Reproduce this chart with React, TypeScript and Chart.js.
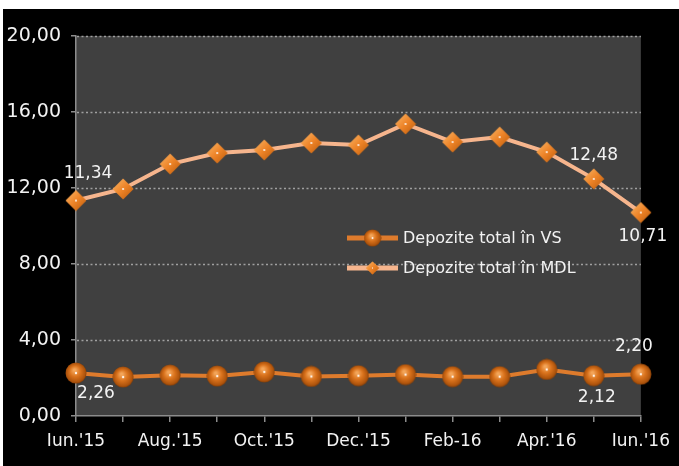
import { useEffect, useRef } from 'react';
import { Chart, registerables } from 'chart.js';

Chart.register(...registerables);

const categories = [
  "Iun.'15", "Iul.'15", "Aug.'15", "Sep.'15", "Oct.'15", "Nov.'15", "Dec.'15",
  "Ian-16", "Feb-16", "Mar.'16", "Apr.'16", "Mai.'16", "Iun.'16",
];
const depoziteVS = [2.26, 2.05, 2.15, 2.1, 2.32, 2.08, 2.12, 2.18, 2.07, 2.07, 2.45, 2.12, 2.2];
const depoziteMDL = [11.34, 11.95, 13.26, 13.84, 14.0, 14.37, 14.26, 15.37, 14.42, 14.68, 13.89, 12.48, 10.71];
const seriesNames = ['Depozite total în VS', 'Depozite total în MDL'];
const yTicks = [0, 4, 8, 12, 16, 20];
// labelled points: [dataset index, point index]
const labelledPoints: [number, number][] = [[1, 0], [1, 11], [1, 12], [0, 0], [0, 11], [0, 12]];

const FONT = '"DejaVu Sans", sans-serif';
const fmt = (v: number) => v.toFixed(2).replace('.', ',');

function makeSphere(): HTMLCanvasElement {
  const c = document.createElement('canvas');
  c.width = 22; c.height = 22;
  const ctx = c.getContext('2d')!;
  const g = ctx.createRadialGradient(9.5, 8, 1, 11, 11, 11);
  g.addColorStop(0, '#f4a65a');
  g.addColorStop(0.45, '#d9721c');
  g.addColorStop(0.85, '#ad530c');
  g.addColorStop(1, '#743606');
  ctx.fillStyle = g;
  ctx.beginPath(); ctx.arc(11, 11, 10.5, 0, Math.PI * 2); ctx.fill();
  ctx.fillStyle = 'rgba(255,255,255,0.9)';
  ctx.beginPath(); ctx.arc(11, 11, 1.2, 0, Math.PI * 2); ctx.fill();
  return c;
}

function makeDiamond(): HTMLCanvasElement {
  const c = document.createElement('canvas');
  c.width = 22; c.height = 22;
  const ctx = c.getContext('2d')!;
  const m = 11, r = 10.5;
  const g = ctx.createLinearGradient(2, 2, 20, 20);
  g.addColorStop(0, '#f8b060');
  g.addColorStop(0.5, '#ee8428');
  g.addColorStop(1, '#c2600e');
  ctx.fillStyle = g;
  ctx.beginPath();
  ctx.moveTo(m, m - r); ctx.lineTo(m + r, m); ctx.lineTo(m, m + r); ctx.lineTo(m - r, m); ctx.closePath();
  ctx.fill();
  ctx.fillStyle = 'rgba(255,255,255,0.9)';
  ctx.beginPath(); ctx.arc(m, m, 1.1, 0, Math.PI * 2); ctx.fill();
  return c;
}

export default function App() {
  const ref = useRef<HTMLCanvasElement>(null);
  useEffect(() => {
    if (!ref.current) return;
    const sphere = makeSphere();
    const diamond = makeDiamond();
    const lineColors = ['#de7b2c', '#f6b58d'];
    const markers = [sphere, diamond];

    const bgPlugin = {
      id: 'bg',
      beforeDraw(chart: any) {
        const { ctx, chartArea: a } = chart;
        ctx.save();
        ctx.fillStyle = '#404040';
        ctx.fillRect(a.left, a.top, a.right - a.left, a.bottom - a.top);
        ctx.restore();
      },
      beforeDatasetsDraw(chart: any) {
        const { ctx, chartArea: a } = chart;
        const y = chart.scales.y;
        ctx.save();
        ctx.strokeStyle = '#a0a0a0';
        ctx.lineWidth = 1.5;
        ctx.setLineDash([2, 2.5]);
        yTicks.forEach((t) => {
          if (t === 0) return;
          const py = Math.round(y.getPixelForValue(t)) + 0.5;
          ctx.beginPath();
          ctx.moveTo(a.left + 1, py);
          ctx.lineTo(a.right, py);
          ctx.stroke();
        });
        ctx.restore();
      },
      afterDraw(chart: any) {
        const { ctx, chartArea: a } = chart;
        ctx.save();
        // data labels
        const offsets: Record<string, [number, number]> = {
          '1-0': [12, -27], '1-11': [0, -23], '1-12': [2, 24],
          '0-0': [20, 21], '0-11': [3, 22], '0-12': [-7, -28],
        };
        ctx.font = `17px ${FONT}`;
        ctx.fillStyle = '#f2f2f2';
        ctx.textAlign = 'center';
        ctx.textBaseline = 'middle';
        labelledPoints.forEach(([d, i]) => {
          const el = chart.getDatasetMeta(d).data[i];
          const v = chart.data.datasets[d].data[i] as number;
          const [dx, dy] = offsets[`${d}-${i}`];
          ctx.fillText(fmt(v), el.x + dx, el.y + dy);
        });
        // legend
        const lx = a.left + 271;
        const ly = [a.top + 202, a.top + 232];
        ctx.font = `16px ${FONT}`;
        ctx.textAlign = 'left';
        seriesNames.forEach((name, k) => {
          ctx.strokeStyle = lineColors[k];
          ctx.lineWidth = 5;
          ctx.beginPath();
          ctx.moveTo(lx, ly[k]);
          ctx.lineTo(lx + 51, ly[k]);
          ctx.stroke();
          const mk = markers[k];
          const s = k === 0 ? 18 : 14;
          ctx.drawImage(mk, lx + 25.5 - s / 2, ly[k] - s / 2, s, s);
          ctx.fillStyle = '#f2f2f2';
          ctx.fillText(name, lx + 56, ly[k] + 1);
        });
        ctx.restore();
      },
    };

    const chart = new Chart(ref.current, {
      type: 'line',
      data: {
        labels: categories,
        datasets: [
          {
            label: seriesNames[0],
            data: depoziteVS,
            borderColor: lineColors[0],
            borderWidth: 4,
            pointStyle: sphere as any,
            pointRadius: 11,
            pointHoverRadius: 11,
            tension: 0,
          },
          {
            label: seriesNames[1],
            data: depoziteMDL,
            borderColor: lineColors[1],
            borderWidth: 4,
            pointStyle: diamond as any,
            pointRadius: 11,
            pointHoverRadius: 11,
            tension: 0,
          },
        ],
      },
      options: {
        animation: false,
        responsive: true,
        maintainAspectRatio: false,
        events: [],
        layout: { padding: { top: 27, right: 37, left: 0, bottom: 0 } },
        plugins: { legend: { display: false }, tooltip: { enabled: false } },
        scales: {
          x: {
            type: 'category',
            offset: false,
            grid: { drawOnChartArea: false, drawTicks: true, tickLength: 6, color: '#8c8c8c', lineWidth: 1.5 },
            border: { color: '#8c8c8c', width: 1.5 },
            ticks: {
              autoSkip: false,
              maxRotation: 0,
              padding: 9,
              color: '#f2f2f2',
              font: { family: FONT, size: 17 },
              callback: (_v: any, i: number) => (i % 2 === 0 ? categories[i] : ''),
            },
            afterFit: (s: any) => { s.height = 50; },
          },
          y: {
            min: 0,
            max: 20,
            afterBuildTicks: (s: any) => { s.ticks = yTicks.map((v) => ({ value: v })); },
            grid: { drawOnChartArea: false, drawTicks: true, tickLength: 5, color: '#8c8c8c', lineWidth: 1.5 },
            border: { color: '#8c8c8c', width: 1.5 },
            ticks: {
              padding: 10,
              color: '#f2f2f2',
              font: { family: FONT, size: 19 },
              callback: (v: any) => fmt(Number(v)),
            },
            afterFit: (s: any) => { s.width = 73; },
          },
        },
      },
      plugins: [bgPlugin],
    });
    return () => chart.destroy();
  }, []);

  return (
    <div style={{ position: 'absolute', left: 3, top: 9, width: 676, height: 457, background: '#000' }}>
      <canvas ref={ref} />
    </div>
  );
}
